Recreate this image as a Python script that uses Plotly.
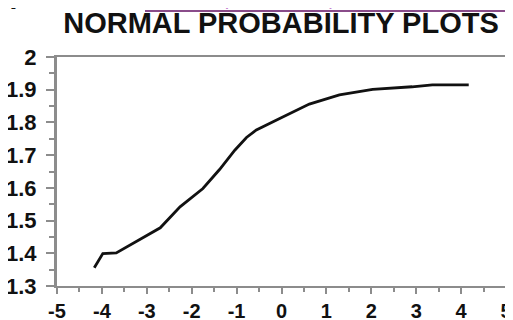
import plotly.graph_objects as go

# Data
x_vals = [-4.17, -3.98, -3.68, -3.30, -3.00, -2.70, -2.26, -1.75, -1.38, -1.04,
          -0.78, -0.56, -0.04, 0.62, 1.29, 2.03, 2.91, 3.36, 4.17]
y_vals = [1.356, 1.399, 1.401, 1.430, 1.455, 1.478, 1.542, 1.598, 1.656, 1.715,
          1.754, 1.777, 1.812, 1.856, 1.884, 1.901, 1.909, 1.915, 1.915]
x_ticks = [-5, -4, -3, -2, -1, 0, 1, 2, 3, 4, 5]
y_ticks = [1.3, 1.4, 1.5, 1.6, 1.7, 1.8, 1.9, 2]
y_tick_text = ["1.3", "1.4", "1.5", "1.6", "1.7", "1.8", "1.9", "2"]
title_text = "NORMAL PROBABILITY PLOTS"
header_plain = "[ Data from "
header_link = "USGS Open-File Report 2005"

# the page body has an 8px margin, so the figure is sized to fit the window
W, H = 505, 312
ML, MR, MT, MB = 49, 7, 49, 34
PW = W - ML - MR
PH = H - MT - MB

AX = "#8c8c8c"
FONT = "Liberation Sans, Arial, Helvetica, sans-serif"

fig = go.Figure()
fig.add_trace(go.Scatter(x=x_vals, y=y_vals, mode="lines",
                         line=dict(color="#111111", width=2.8),
                         hoverinfo="skip", showlegend=False))

fig.update_layout(
    width=W, height=H,
    margin=dict(l=ML, r=MR, t=MT, b=MB, pad=0, autoexpand=False),
    paper_bgcolor="white", plot_bgcolor="white",
    showlegend=False,
    title=dict(text=title_text, x=273 / W, xanchor="center",
               y=1 - 15 / H, yanchor="middle", automargin=False,
               font=dict(family=FONT, size=29, color="#111111", weight="bold")),
)

fig.update_xaxes(
    range=[-5, 5], tickvals=x_ticks, ticktext=[str(v) for v in x_ticks],
    showgrid=False, zeroline=False, automargin=False,
    showline=True, linecolor=AX, linewidth=2, mirror=True,
    ticks="outside", ticklen=6, tickwidth=2, tickcolor=AX,
    minor=dict(dtick=0.5, tick0=0, ticks="outside", ticklen=4, tickwidth=2, tickcolor=AX),
    tickfont=dict(family=FONT, size=20, color="#111111", weight="bold"),
    ticklabelstandoff=0,
)
fig.update_yaxes(
    range=[1.3, 2.0], tickvals=y_ticks, ticktext=y_tick_text,
    showgrid=False, zeroline=False, automargin=False,
    showline=True, linecolor=AX, linewidth=3, mirror=True,
    ticks="outside", ticklen=8, tickwidth=2, tickcolor=AX,
    minor=dict(dtick=0.05, tick0=0, ticks="outside", ticklen=5, tickwidth=2, tickcolor=AX),
    tickfont=dict(family=FONT, size=22, color="#111111", weight="bold"),
    ticklabelstandoff=5,
)

# cut-off header line at the very top of the page
fig.add_annotation(text=header_plain, xref="paper", yref="paper",
                   x=(0 - ML) / PW, y=1 + (MT - 3.5) / PH, xanchor="left", yanchor="bottom",
                   showarrow=False, font=dict(family=FONT, size=20, color="#111111"))
fig.add_annotation(text=header_link, xref="paper", yref="paper",
                   x=(137 - ML) / PW, y=1 + (MT - 3.5) / PH, xanchor="left", yanchor="bottom",
                   showarrow=False, font=dict(family=FONT, size=20, color="#c47fd0"))
fig.add_shape(type="line", xref="paper", yref="paper",
              x0=(137 - ML) / PW, x1=(W + 5 - ML) / PW,
              y0=1 + (MT - 3) / PH, y1=1 + (MT - 3) / PH,
              line=dict(color="#8a4c8a", width=2))

fig.write_html("out.html")
